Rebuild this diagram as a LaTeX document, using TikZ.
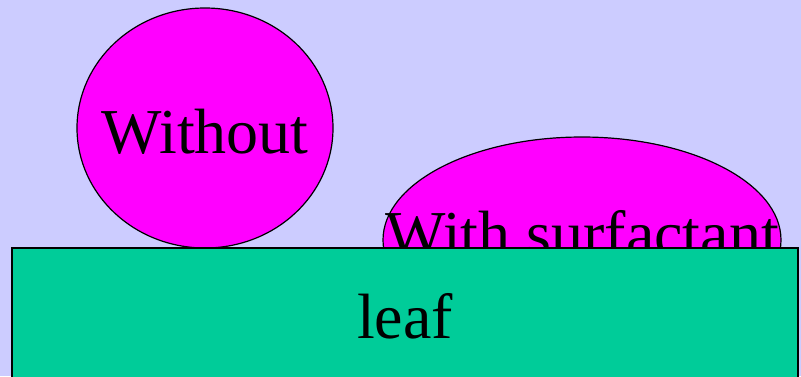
\documentclass[tikz,border=0pt]{standalone}
\usepackage{fontspec}
\setmainfont{Liberation Serif}
\usepackage{xcolor}
\usepackage{tikz}
\usetikzlibrary{positioning, shapes.geometric}
\definecolor{sky}{HTML}{CCCCFF}
\definecolor{drop}{HTML}{FF00FF}
\definecolor{leafgreen}{HTML}{00CC99}

\begin{document}
\begin{tikzpicture}[x=1pt, y=1pt]
        \fill[sky] (0,0) rectangle (801,-376);
        \useasboundingbox (0,0) rectangle (801,-376);
        \node[draw=black, fill=drop, ellipse, line width=1.2pt, inner sep=0pt,
              minimum width=256pt, minimum height=240pt] (without) at (205,-128) {};
        \node[font=\fontsize{64}{70}\selectfont, inner sep=0pt,
              anchor=base] (withouttext) at (205,-153) {Without};
        \node[draw=black, fill=drop, ellipse, line width=1.2pt, inner sep=0pt,
              minimum width=398pt, minimum height=206pt] (surf) at (582,-240) {};
        \node[font=\fontsize{64}{70}\selectfont, inner sep=0pt,
              anchor=base] (surftext) at (582,-255) {With surfactant};
        \node[draw=black, fill=leafgreen, line width=1.2pt, inner sep=0pt,
              minimum width=786pt, minimum height=136pt,
              font=\fontsize{64}{70}\selectfont] (leaf) at (405,-316) {leaf};
      \end{tikzpicture}
\end{document}
